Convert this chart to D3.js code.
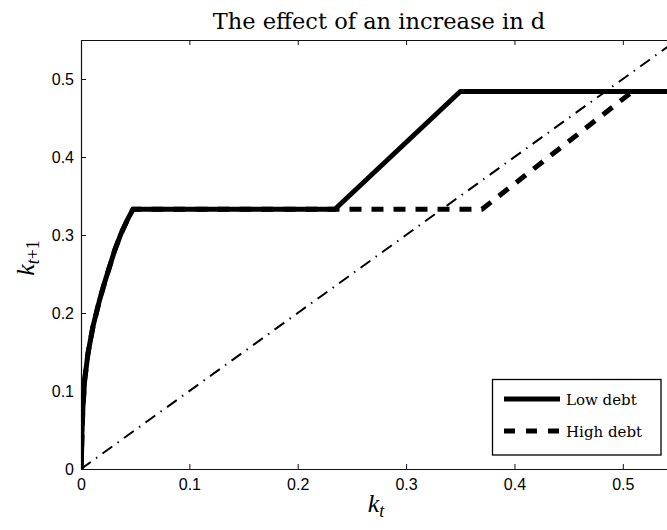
<!DOCTYPE html>
<html>
<head>
<meta charset="utf-8">
<script src="https://cdn.jsdelivr.net/npm/d3@7"></script>
<style>
body { margin:0; background:#fff; }
svg { display:block; }
</style>
</head>
<body>
<div id="chart"></div>
<script>
// k_t values
let lowK  = [0, 0.0003, 0.0009, 0.0018, 0.0034, 0.0065, 0.0111, 0.0172, 0.022, 0.0265, 0.031, 0.0372, 0.043, 0.048, 0.2343, 0.35, 0.56];
let lowY  = [0, 0.008, 0.046, 0.080, 0.1145, 0.1487, 0.183, 0.217, 0.24, 0.2598, 0.28, 0.3026, 0.32, 0.333, 0.333, 0.484, 0.484];
let highK = [0, 0.0003, 0.0009, 0.0018, 0.0034, 0.0065, 0.0111, 0.0172, 0.022, 0.0265, 0.031, 0.0372, 0.043, 0.048, 0.37, 0.509, 0.56];
let highY = [0, 0.008, 0.046, 0.080, 0.1145, 0.1487, 0.183, 0.217, 0.24, 0.2598, 0.28, 0.3026, 0.32, 0.333, 0.333, 0.484, 0.484];
let diagK = [0, 0.56];
let diagY = [0, 0.56];
let tickVals = [0, 0.1, 0.2, 0.3, 0.4, 0.5];
let seriesNames = ["Low debt", "High debt"];
let titleText = "The effect of an increase in d";

let svgW = 667, svgH = 530;
let plotL = 81, plotR = 677, plotT = 40, plotB = 469;

let svg = d3.select("#chart")
    .append("svg")
    .attr("width", svgW)
    .attr("height", svgH);

let x = d3.scaleLinear().domain([0, 0.55]).range([plotL, plotR]);
let y = d3.scaleLinear().domain([0, 0.55]).range([plotB, plotT]);

svg.append("clipPath").attr("id", "plotClip")
    .append("rect")
    .attr("x", plotL).attr("y", plotT)
    .attr("width", plotR - plotL).attr("height", plotB - plotT);

let fmt = d => d === 0 ? "0" : d3.format(".1f")(d);

// axes, MATLAB style: ticks pointing inward
let xAxis = svg.append("g")
    .attr("transform", "translate(0," + plotB + ")")
    .call(d3.axisBottom(x).tickValues(tickVals).tickSizeInner(-5).tickSizeOuter(0).tickPadding(9).tickFormat(fmt));
let xTop = svg.append("g")
    .attr("transform", "translate(0," + plotT + ")")
    .call(d3.axisTop(x).tickValues(tickVals).tickSizeInner(-5).tickSizeOuter(0).tickFormat(""));
let yAxis = svg.append("g")
    .attr("transform", "translate(" + plotL + ",0)")
    .call(d3.axisLeft(y).tickValues(tickVals).tickSizeInner(-5).tickSizeOuter(0).tickPadding(7).tickFormat(fmt));
let yRight = svg.append("g")
    .attr("transform", "translate(" + plotR + ",0)")
    .call(d3.axisRight(y).tickValues(tickVals).tickSizeInner(-5).tickSizeOuter(0).tickFormat(""));

[xAxis, xTop, yAxis, yRight].forEach(function(g){
    g.select(".domain").attr("stroke", "#111").attr("stroke-width", 1.2);
    g.selectAll(".tick line").attr("stroke", "#111").attr("stroke-width", 1);
    g.selectAll(".tick text")
        .attr("font-family", "'Liberation Sans', Arial, sans-serif")
        .attr("font-size", "16px")
        .attr("fill", "#000");
});
xAxis.selectAll(".tick text").attr("dy", "0.75em");
yAxis.selectAll(".tick text").attr("dy", "0.36em");

let plot = svg.append("g").attr("clip-path", "url(#plotClip)");

let line = d3.line()
    .x(d => x(d[0]))
    .y(d => y(d[1]));

// 45 degree line
plot.append("path")
    .datum(d3.zip(diagK, diagY))
    .attr("d", line)
    .attr("fill", "none")
    .attr("stroke", "#000")
    .attr("stroke-width", 2)
    .attr("stroke-dasharray", "12,6.5,1.5,6.5");

plot.append("path")
    .datum(d3.zip(lowK, lowY))
    .attr("d", line)
    .attr("fill", "none")
    .attr("stroke", "#000")
    .attr("stroke-width", 5)
    .attr("stroke-linejoin", "round");

plot.append("path")
    .datum(d3.zip(highK, highY))
    .attr("d", line)
    .attr("fill", "none")
    .attr("stroke", "#000")
    .attr("stroke-width", 5)
    .attr("stroke-dasharray", "12,10");

// title
svg.append("text")
    .attr("x", (plotL + plotR) / 2)
    .attr("y", 29)
    .attr("text-anchor", "middle")
    .attr("font-family", "'DejaVu Serif', serif")
    .attr("font-size", "22.5px")
    .text(titleText);

// axis labels
let xl = svg.append("text")
    .attr("x", (plotL + plotR) / 2 - 3)
    .attr("y", 512)
    .attr("text-anchor", "middle")
    .attr("font-family", "'Liberation Serif', serif")
    .attr("font-size", "26px");
xl.append("tspan").attr("font-style", "italic").text("k");
xl.append("tspan").attr("font-style", "italic").attr("font-size", "18px").attr("dy", 5).text("t");

let yl = svg.append("text")
    .attr("transform", "translate(34," + 258 + ") rotate(-90)")
    .attr("text-anchor", "middle")
    .attr("font-family", "'Liberation Serif', serif")
    .attr("font-size", "26px");
yl.append("tspan").attr("font-style", "italic").text("k");
let ysub = yl.append("tspan").attr("font-size", "18px").attr("dy", 5);
ysub.append("tspan").attr("font-style", "italic").text("t");
ysub.append("tspan").text("+1");

// legend
let legend = svg.append("g");
legend.append("rect")
    .attr("x", 492.5).attr("y", 379.5)
    .attr("width", 168.5).attr("height", 75.5)
    .attr("fill", "#fff")
    .attr("stroke", "#000")
    .attr("stroke-width", 1.3);
let dashes = [null, "11,11"];
seriesNames.forEach(function(name, i){
    let ly = 399 + i * 32;
    legend.append("line")
        .attr("x1", 504).attr("x2", 560)
        .attr("y1", ly).attr("y2", ly)
        .attr("stroke", "#000")
        .attr("stroke-width", 5)
        .attr("stroke-dasharray", dashes[i]);
    legend.append("text")
        .attr("x", 566)
        .attr("y", ly + 6)
        .attr("font-family", "'DejaVu Serif', serif")
        .attr("font-size", "15px")
        .text(name);
});
</script>
</body>
</html>
